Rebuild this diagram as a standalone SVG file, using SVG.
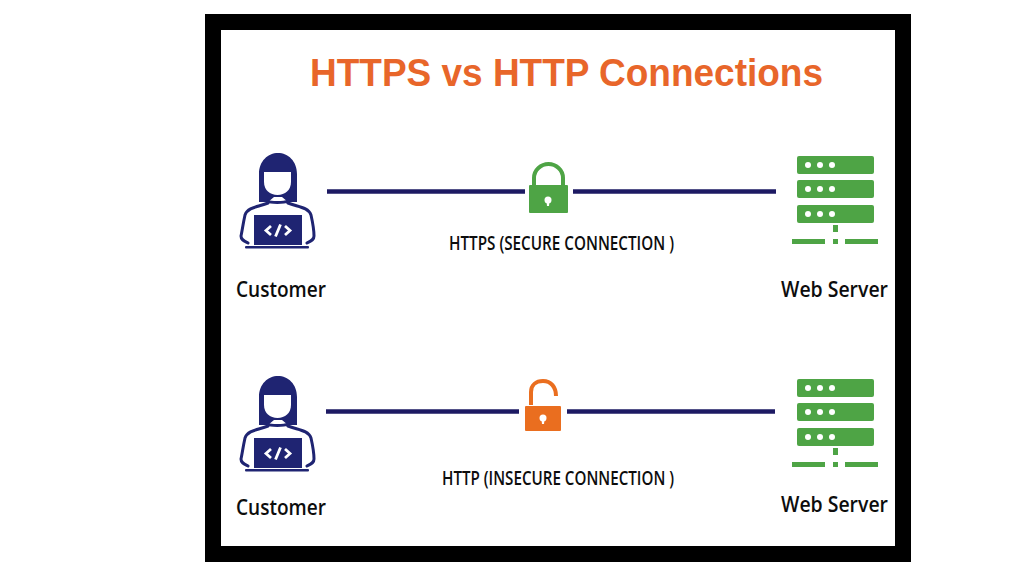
<svg xmlns="http://www.w3.org/2000/svg" xmlns:xlink="http://www.w3.org/1999/xlink" width="1024" height="576" viewBox="0 0 1024 576">
<style>
.title{font-family:"Liberation Sans",Arial,sans-serif;font-weight:700;font-size:38px;fill:#e8662a}
.lbl{font-family:"Open Sans","Liberation Sans",sans-serif;font-weight:600;font-size:21px;fill:#0d0d0d}
.cap{font-family:"Open Sans","Liberation Sans",sans-serif;font-weight:600;font-size:20px;fill:#0d0d0d}
.line{stroke:#1d1a63;stroke-width:4.5;fill:none}
.navy{fill:#1f2472}
.out{fill:none;stroke:#1f2472;stroke-width:3;stroke-linecap:round;stroke-linejoin:round}
.g{fill:#4ea445}
</style>
<defs>
<g id="person">
<path class="navy" d="M259 202V174C259 161 268 153 278 153C288 153 297 161 297 174V202H288L282 197H274L268 202Z"/>
<path fill="#fff" d="M264 172H291V182C291 190 285 195 277.500 195C270 195 264 190 264 182Z"/>
<path class="out" d="M268 201C270 203 284 203 288 201M268 203C258 207 248 207 245 215C243 224 242 232 241 236C241 240 244 241 248 243M288 203C298 207 308 207 311 215C313 224 314 232 314 236C314 240 311 241 307 243"/>
<rect class="navy" x="254" y="215" width="48" height="30"/>
<rect class="navy" x="245" y="246" width="64" height="2.500" rx="1"/>
<path d="M271 226L266 230.500L271 235M285 226L290 230.500L285 235M280.500 224.500L275.500 236.500" fill="none" stroke="#fff" stroke-width="2.800"/>
</g>
<g id="server">
<rect class="g" x="797" y="156" width="77" height="18" rx="2"/>
<rect class="g" x="797" y="180" width="77" height="18" rx="2"/>
<rect class="g" x="797" y="205" width="77" height="18" rx="2"/>
<g fill="#fff">
<circle cx="808" cy="165" r="3"/><circle cx="820" cy="165" r="3"/><circle cx="832" cy="165" r="3"/>
<circle cx="808" cy="189" r="3"/><circle cx="820" cy="189" r="3"/><circle cx="832" cy="189" r="3"/>
<circle cx="808" cy="214" r="3"/><circle cx="820" cy="214" r="3"/><circle cx="832" cy="214" r="3"/>
</g>
<rect class="g" x="833" y="225" width="5" height="7"/>
<rect class="g" x="833" y="239" width="5" height="5"/>
<rect class="g" x="792" y="239" width="33" height="5"/>
<rect class="g" x="845" y="239" width="33" height="5"/>
</g>
</defs>
<rect width="1024" height="576" fill="#fff"/>
<rect id="frame" x="213" y="22" width="690" height="532" fill="#fff" stroke="#000" stroke-width="16"/>
<text id="title" class="title" x="310" y="86" textLength="513" lengthAdjust="spacingAndGlyphs">HTTPS vs HTTP Connections</text>
<g id="connectors">
<path class="line" d="M327 191.500H525"/>
<path class="line" d="M573 191.500H776"/>
<path class="line" d="M326 411.500H519"/>
<path class="line" d="M567 411.500H775"/>
</g>
<g id="customer-top"><use href="#person"/><text class="lbl" x="236" y="297" textLength="90" lengthAdjust="spacingAndGlyphs">Customer</text></g>
<g id="server-top"><use href="#server"/><text class="lbl" x="781" y="297" textLength="107" lengthAdjust="spacingAndGlyphs">Web Server</text></g>
<g id="lock-secure">
<path d="M534 186V178C534 170 541 164 548.500 164C556 164 563 170 563 178V186" fill="none" stroke="#4ea445" stroke-width="4"/>
<rect class="g" x="529" y="185" width="39" height="28" rx="1"/>
<circle cx="548" cy="200" r="3.500" fill="#fff"/><path d="M546.500 201H549.500L549 206H547Z" fill="#fff"/>
</g>
<g id="label-https"><text class="cap" x="449" y="250" textLength="225" lengthAdjust="spacingAndGlyphs">HTTPS (SECURE CONNECTION )</text></g>
<g id="customer-bottom"><use href="#person" y="223"/><text class="lbl" x="236" y="515" textLength="90" lengthAdjust="spacingAndGlyphs">Customer</text></g>
<g id="server-bottom"><use href="#server" y="223"/><text class="lbl" x="781" y="512" textLength="107" lengthAdjust="spacingAndGlyphs">Web Server</text></g>
<g id="lock-open">
<path d="M531 405V392C531 385 536 381 543 381C551 381 556 387 556 396" fill="none" stroke="#ea6e1f" stroke-width="4"/>
<rect x="525" y="406" width="36" height="25" rx="1" fill="#ea6e1f"/>
<circle cx="543" cy="418" r="3.500" fill="#fff"/><path d="M541.500 419H544.500L544 424H542Z" fill="#fff"/>
</g>
<g id="label-http"><text class="cap" x="442" y="485" textLength="232" lengthAdjust="spacingAndGlyphs">HTTP (INSECURE CONNECTION )</text></g>
</svg>
